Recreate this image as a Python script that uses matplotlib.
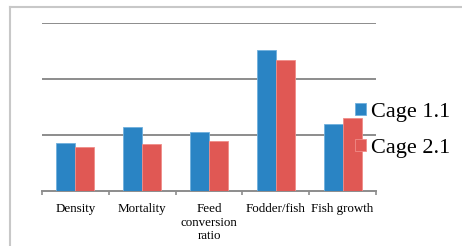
import matplotlib
matplotlib.use("Agg")
import matplotlib.pyplot as plt
from matplotlib.lines import Line2D
import numpy as np

categories = ["Density", "Mortality", "Feed\nconversion\nratio", "Fodder/fish", "Fish growth"]
cage_1_1 = [0.85, 1.14, 1.05, 2.52, 1.20]
cage_2_1 = [0.785, 0.84, 0.89, 2.34, 1.30]
series_names = ["Cage 1.1", "Cage 2.1"]

plt.rcParams['font.family'] = ['Liberation Serif', 'DejaVu Serif']

fig = plt.figure(figsize=(4.62, 2.46), dpi=100)
ax = fig.add_axes([42/462, 1 - 190.7/246, (376 - 42)/462, (190.7 - 23.3)/246])

x = np.arange(len(categories))
w = 0.284
blue = '#2A84C4'
red = '#E05854'
ax.bar(x - w/2, cage_1_1, width=w, color=blue, edgecolor='#6FB0DD', linewidth=0.6, label=series_names[0], zorder=3)
ax.bar(x + w/2, cage_2_1, width=w, color=red, edgecolor='#F08C88', linewidth=0.6, label=series_names[1], zorder=3)

ax.set_xlim(-0.5, len(categories) - 0.5)
ax.set_ylim(0, 3)
ax.set_yticks([1, 2, 3])
ax.yaxis.grid(True, color='#8C8C8C', linewidth=1.4, zorder=0)
ax.tick_params(axis='y', length=0, labelleft=False)
for s in ['top', 'right', 'left']:
    ax.spines[s].set_visible(False)
ax.spines['bottom'].set_color('#8C8C8C')
ax.spines['bottom'].set_linewidth(1.4)

ax.set_xticks(x)
ax.set_xticklabels(categories, fontsize=9.4, linespacing=1.15)
ax.tick_params(axis='x', which='major', length=0, pad=9)
ax.set_xticks(np.arange(-0.5, len(categories)), minor=True)
ax.tick_params(axis='x', which='minor', length=3, width=1.2, color='#8C8C8C')

leg = fig.legend(loc='upper left', bbox_to_anchor=(355/462, 1 - 103/246), frameon=False,
                 fontsize=16, handlelength=0.48, handleheight=0.48, handletextpad=0.25,
                 labelspacing=0.75, borderpad=0, borderaxespad=0)

# outer frame (left & top edges)
fig.add_artist(Line2D([9.5/462, 9.5/462], [0, 1 - 6.5/246], transform=fig.transFigure, color='#C8C8C8', linewidth=1.5))
fig.add_artist(Line2D([9.5/462, 1], [1 - 6.5/246, 1 - 6.5/246], transform=fig.transFigure, color='#C8C8C8', linewidth=1.5))

fig.savefig("out.png", dpi=100)
